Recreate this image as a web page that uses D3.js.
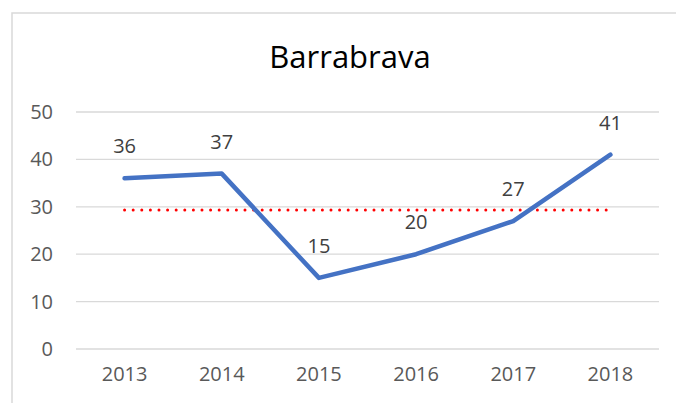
<!DOCTYPE html>
<html lang="en">
	<head>
		<meta charset="utf-8">
		<title>Barrabrava</title>
		<script src="https://d3js.org/d3.v7.min.js"></script>
		<style type="text/css">
			body {
				margin: 0;
				background: #ffffff;
			}
			text {
				font-family: "Open Sans", "Noto Sans", sans-serif;
			}
		</style>
	</head>
	<body>
		<script type="text/javascript">

			//Data
			var years = ["2013", "2014", "2015", "2016", "2017", "2018"];
			var values = [36, 37, 15, 20, 27, 41];
			var averageValue = 29.33;
			var yTicks = [0, 10, 20, 30, 40, 50];

			//Width and height
			var w = 676;
			var h = 403;
			var font = "'Open Sans', 'Noto Sans', sans-serif";

			var svg = d3.select("body")
						.append("svg")
						.attr("width", w)
						.attr("height", h);

			//Chart border (right and bottom edges fall outside the picture)
			svg.append("rect")
				.attr("x", 12)
				.attr("y", 13)
				.attr("width", 700)
				.attr("height", 420)
				.attr("fill", "none")
				.attr("stroke", "#d9d9d9")
				.attr("stroke-width", 1.5);

			//Scales
			var xScale = d3.scaleBand()
					.domain(years)
					.range([76, 659]);

			var yScale = d3.scaleLinear()
					.domain([0, 50])
					.range([349, 112]);

			//Gridlines
			svg.append("g")
				.selectAll("line")
				.data(yTicks)
				.enter()
				.append("line")
				.attr("x1", 76)
				.attr("x2", 659)
				.attr("y1", function(d) { return yScale(d); })
				.attr("y2", function(d) { return yScale(d); })
				.attr("stroke", "#d9d9d9")
				.attr("stroke-width", 1.3);

			//Y axis
			var yAxis = d3.axisLeft()
						  .scale(yScale)
						  .tickValues(yTicks)
						  .tickSize(0)
						  .tickPadding(0);

			var yG = svg.append("g")
				.attr("transform", "translate(53,0)")
				.call(yAxis);
			yG.select(".domain").remove();
			yG.selectAll("text")
				.attr("font-size", "20px")
				.attr("fill", "#595959")
				.attr("font-family", font);

			//X axis
			var xAxis = d3.axisBottom()
						  .scale(xScale)
						  .tickSize(0)
						  .tickPadding(0);

			var xG = svg.append("g")
				.attr("transform", "translate(0,367)")
				.call(xAxis);
			xG.select(".domain").remove();
			xG.selectAll("text")
				.attr("dy", "0.7em")
				.attr("font-size", "20px")
				.attr("fill", "#595959")
				.attr("font-family", font);

			//Average line
			var cx = function(i) { return xScale(years[i]) + xScale.bandwidth() / 2; };

			svg.append("line")
				.attr("x1", cx(0))
				.attr("x2", cx(years.length - 1))
				.attr("y1", yScale(averageValue))
				.attr("y2", yScale(averageValue))
				.attr("stroke", "#ff0000")
				.attr("stroke-width", 3)
				.attr("stroke-linecap", "round")
				.attr("stroke-dasharray", "0 8.6");

			//Line
			var line = d3.line()
				.x(function(d, i) { return cx(i); })
				.y(function(d) { return yScale(d); });

			svg.append("path")
				.datum(values)
				.attr("d", line)
				.attr("fill", "none")
				.attr("stroke", "#4472c4")
				.attr("stroke-width", 4.5)
				.attr("stroke-linejoin", "round")
				.attr("stroke-linecap", "round");

			//Data labels
			svg.selectAll(".label")
				.data(values)
				.enter()
				.append("text")
				.attr("class", "label")
				.text(function(d) { return d; })
				.attr("x", function(d, i) { return cx(i); })
				.attr("y", function(d) { return yScale(d) - 25; })
				.attr("text-anchor", "middle")
				.attr("font-size", "20px")
				.attr("fill", "#404040");

			//Title
			svg.append("text")
				.attr("x", 350)
				.attr("y", 68)
				.attr("text-anchor", "middle")
				.attr("font-size", "31px")
				.attr("fill", "#000000")
				.text("Barrabrava");

		</script>
	</body>
</html>
